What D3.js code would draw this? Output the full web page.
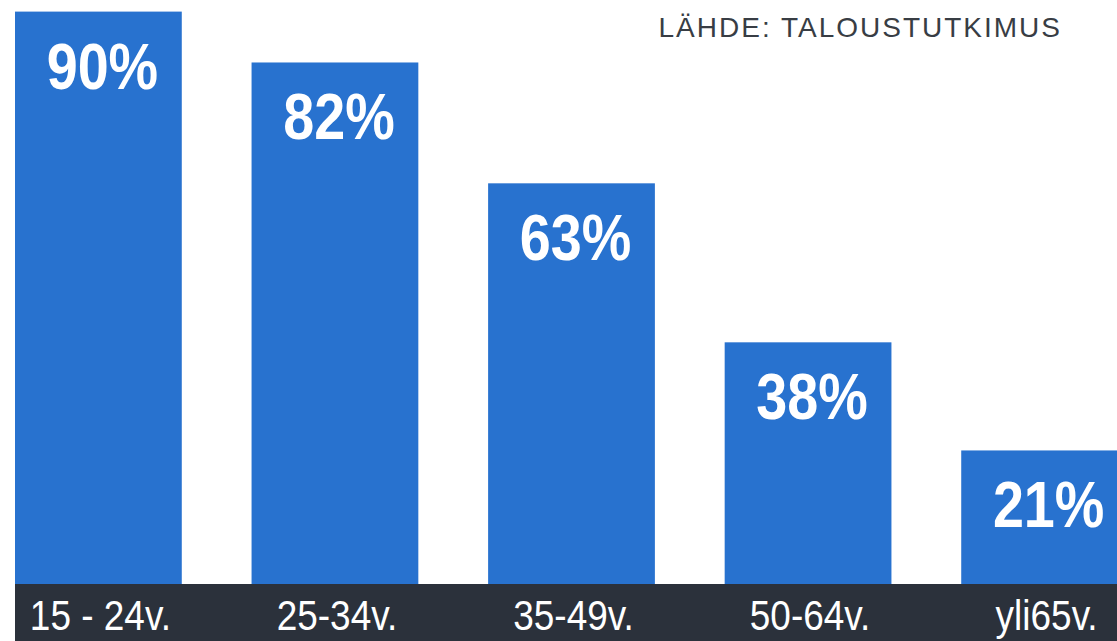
<!DOCTYPE html>
<html lang="fi">
<head>
<meta charset="UTF-8">
<title>Ikäryhmät</title>
<script src="https://d3js.org/d3.v7.min.js"></script>
<style>
  html, body { margin: 0; padding: 0; background: #fff; overflow: hidden; }
  .val { font-family: "Liberation Sans", sans-serif; font-weight: bold; fill: #fff; text-anchor: middle; }
  .cat { font-family: "Liberation Sans", sans-serif; fill: #fff; text-anchor: middle; }
  .src { font-family: "Liberation Sans", sans-serif; fill: #383d44; text-anchor: end; }
</style>
</head>
<body>
<svg id="chart" width="1117" height="641"></svg>
<script>
const categories = ["15 - 24v.", "25-34v.", "35-49v.", "50-64v.", "yli65v."];
const values = [90, 82, 63, 38, 21];
const sourceText = "LÄHDE: TALOUSTUTKIMUS";

const width = 1117, height = 641;
const baseY = 584;
const svg = d3.select("#chart");

const x = d3.scaleBand()
    .domain(categories)
    .range([15, 1128])
    .paddingInner(0.295)
    .paddingOuter(0)
    .align(0);

const y = d3.scaleLinear()
    .domain([0, 100])
    .range([baseY, baseY - 636]);

// bars
svg.selectAll("rect.bar")
    .data(values)
    .join("rect")
    .attr("class", "bar")
    .attr("x", (d, i) => x(categories[i]))
    .attr("y", d => y(d))
    .attr("width", x.bandwidth())
    .attr("height", d => baseY - y(d))
    .attr("fill", "#2872cf");

// value labels (squeezed to mimic the condensed font)
svg.selectAll("text.val")
    .data(values)
    .join("text")
    .attr("class", "val")
    .attr("transform", (d, i) =>
        `translate(${x(categories[i]) + x.bandwidth() / 2 + 4},${y(d) + 77}) scale(0.87,1)`)
    .style("font-size", "64px")
    .text(d => d + "%");

// dark band with category labels
svg.append("rect")
    .attr("x", 15)
    .attr("y", baseY)
    .attr("width", width - 15)
    .attr("height", height - baseY)
    .attr("fill", "#2b313b");

svg.selectAll("text.cat")
    .data(categories)
    .join("text")
    .attr("class", "cat")
    .attr("transform", d => `translate(${x(d) + x.bandwidth() / 2 + 2},630) scale(0.86,1)`)
    .style("font-size", "43px")
    .text(d => d);

svg.append("text")
    .attr("class", "src")
    .attr("x", 1062)
    .attr("y", 37)
    .style("font-size", "28px")
    .style("letter-spacing", "2px")
    .text(sourceText);
</script>
</body>
</html>
